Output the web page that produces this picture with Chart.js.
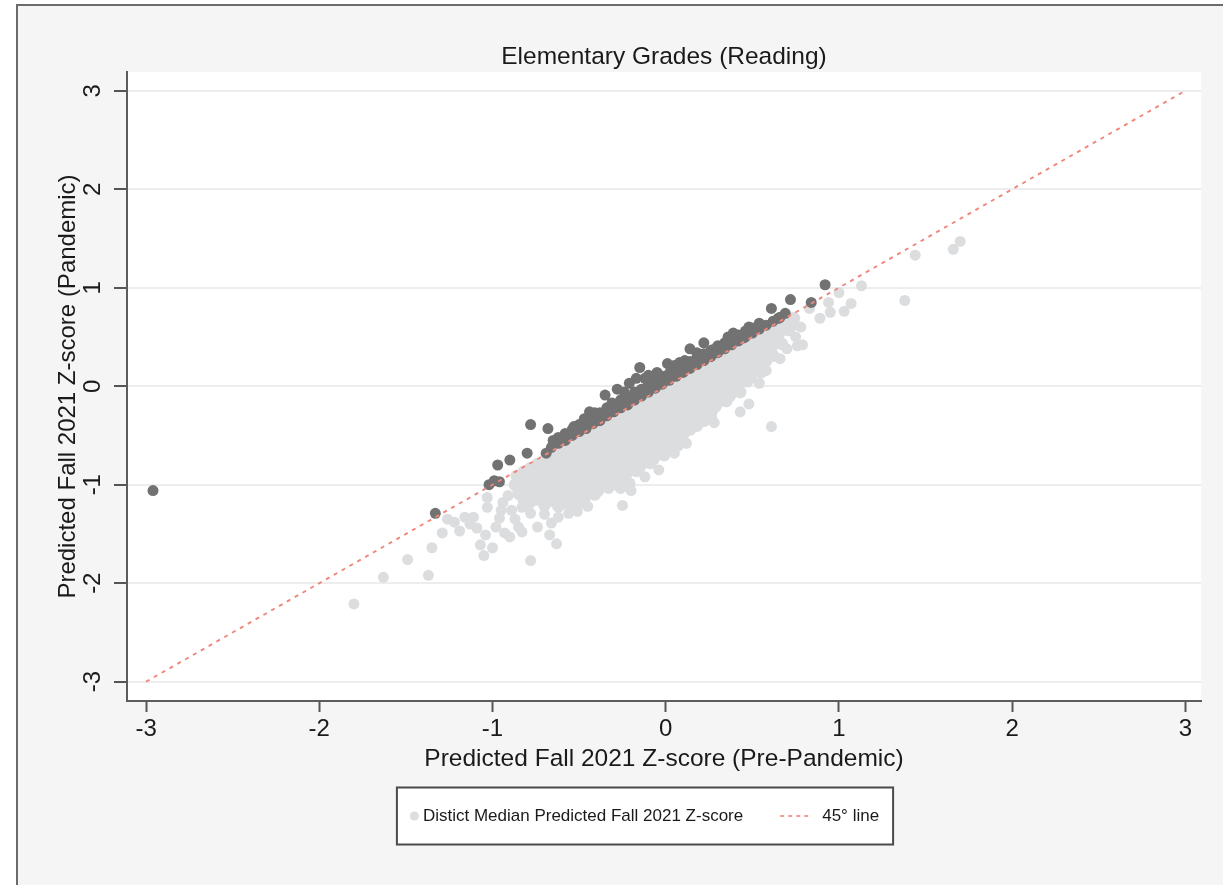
<!DOCTYPE html>
<html>
<head>
<meta charset="utf-8">
<script src="https://cdn.jsdelivr.net/npm/chart.js@4.4.1/dist/chart.umd.min.js"></script>
<style>
  html, body { margin: 0; padding: 0; background: #fff; overflow: hidden; }
  #frame { position: absolute; left: 16px; top: 4px; width: 1300px; height: 1000px;
           background: #f5f5f5; border-left: 2px solid #6b6b6b; border-top: 2px solid #6b6b6b; }
  #wrap { position: absolute; left: 0; top: 0; width: 1223px; height: 885px; }
</style>
</head>
<body>
<div id="frame"></div>
<div id="wrap"><canvas id="chart"></canvas></div>
<script>
// axis ticks
const xTicks = [-3, -2, -1, 0, 1, 2, 3];
const yTicks = [-3, -2, -1, 0, 1, 2, 3];

// 45 degree reference line
const lineX = [-3, 3];
const lineY = [-3, 3];

// districts below the line (light grey) - dense band
const lightCore = [
  [-0.86,-0.91],[-0.87,-1.00],[-0.85,-1.09],
  [-0.82,-0.87],[-0.81,-0.96],[-0.83,-1.05],[-0.82,-1.15],
  [-0.78,-0.83],[-0.79,-0.92],[-0.77,-1.01],[-0.78,-1.10],[-0.79,-1.19],
  [-0.74,-0.79],[-0.75,-0.88],[-0.73,-0.97],[-0.74,-1.06],[-0.75,-1.15],
  [-0.70,-0.75],[-0.71,-0.84],[-0.70,-0.93],[-0.69,-1.02],[-0.71,-1.11],[-0.70,-1.21],
  [-0.66,-0.71],[-0.65,-0.80],[-0.67,-0.89],[-0.66,-0.98],[-0.65,-1.07],[-0.66,-1.16],
  [-0.62,-0.67],[-0.63,-0.76],[-0.61,-0.85],[-0.62,-0.94],[-0.63,-1.03],[-0.61,-1.12],[-0.62,-1.22],
  [-0.58,-0.63],[-0.57,-0.72],[-0.59,-0.81],[-0.58,-0.90],[-0.57,-0.99],[-0.58,-1.08],[-0.59,-1.17],
  [-0.54,-0.59],[-0.55,-0.68],[-0.53,-0.77],[-0.54,-0.86],[-0.55,-0.95],[-0.53,-1.04],[-0.54,-1.13],[-0.55,-1.23],
  [-0.50,-0.55],[-0.49,-0.64],[-0.51,-0.73],[-0.50,-0.82],[-0.49,-0.91],[-0.51,-1.00],[-0.50,-1.09],[-0.49,-1.18],
  [-0.46,-0.51],[-0.47,-0.60],[-0.45,-0.69],[-0.46,-0.78],[-0.47,-0.87],[-0.45,-0.96],[-0.46,-1.05],[-0.47,-1.14],
  [-0.42,-0.47],[-0.41,-0.56],[-0.43,-0.65],[-0.42,-0.74],[-0.41,-0.83],[-0.43,-0.92],[-0.42,-1.01],[-0.41,-1.10],
  [-0.38,-0.43],[-0.39,-0.52],[-0.37,-0.61],[-0.38,-0.70],[-0.39,-0.79],[-0.37,-0.88],[-0.38,-0.97],[-0.39,-1.06],
  [-0.34,-0.39],[-0.33,-0.48],[-0.35,-0.57],[-0.34,-0.66],[-0.33,-0.75],[-0.35,-0.84],[-0.34,-0.93],[-0.33,-1.03],
  [-0.30,-0.35],[-0.31,-0.44],[-0.29,-0.53],[-0.30,-0.62],[-0.31,-0.71],[-0.29,-0.80],[-0.30,-0.89],[-0.31,-0.98],
  [-0.26,-0.31],[-0.25,-0.40],[-0.27,-0.49],[-0.26,-0.58],[-0.25,-0.67],[-0.27,-0.76],[-0.26,-0.85],[-0.25,-0.94],[-0.26,-1.03],
  [-0.22,-0.27],[-0.23,-0.36],[-0.21,-0.45],[-0.22,-0.54],[-0.23,-0.63],[-0.21,-0.72],[-0.22,-0.81],[-0.23,-0.90],[-0.21,-0.99],
  [-0.18,-0.23],[-0.17,-0.32],[-0.19,-0.41],[-0.18,-0.50],[-0.17,-0.59],[-0.19,-0.68],[-0.18,-0.77],[-0.17,-0.86],
  [-0.14,-0.19],[-0.15,-0.28],[-0.13,-0.37],[-0.14,-0.46],[-0.15,-0.55],[-0.13,-0.64],[-0.14,-0.73],[-0.15,-0.82],
  [-0.10,-0.15],[-0.09,-0.24],[-0.11,-0.33],[-0.10,-0.42],[-0.09,-0.51],[-0.11,-0.60],[-0.10,-0.69],[-0.09,-0.78],
  [-0.06,-0.11],[-0.07,-0.20],[-0.05,-0.29],[-0.06,-0.38],[-0.07,-0.47],[-0.05,-0.56],[-0.06,-0.65],[-0.07,-0.74],
  [-0.02,-0.07],[-0.01,-0.16],[-0.03,-0.25],[-0.02,-0.34],[-0.01,-0.43],[-0.03,-0.52],[-0.02,-0.61],[-0.01,-0.70],
  [0.02,-0.03],[0.01,-0.12],[0.03,-0.21],[0.02,-0.30],[0.01,-0.39],[0.03,-0.48],[0.02,-0.57],[0.01,-0.64],
  [0.06,0.01],[0.07,-0.08],[0.05,-0.17],[0.06,-0.26],[0.07,-0.35],[0.05,-0.44],[0.06,-0.53],[0.07,-0.60],
  [0.10,0.05],[0.09,-0.04],[0.11,-0.13],[0.10,-0.22],[0.09,-0.31],[0.11,-0.40],[0.10,-0.49],
  [0.14,0.09],[0.15,0.00],[0.13,-0.09],[0.14,-0.18],[0.15,-0.27],[0.13,-0.36],[0.14,-0.44],
  [0.18,0.13],[0.17,0.04],[0.19,-0.05],[0.18,-0.14],[0.17,-0.23],[0.19,-0.32],[0.18,-0.40],
  [0.22,0.17],[0.23,0.08],[0.21,-0.01],[0.22,-0.10],[0.23,-0.19],[0.21,-0.28],[0.22,-0.35],
  [0.26,0.21],[0.25,0.12],[0.27,0.03],[0.26,-0.06],[0.25,-0.15],[0.27,-0.24],[0.26,-0.31],
  [0.30,0.25],[0.31,0.16],[0.29,0.07],[0.30,-0.02],[0.31,-0.11],[0.29,-0.20],
  [0.34,0.29],[0.33,0.20],[0.35,0.11],[0.34,0.02],[0.33,-0.07],[0.35,-0.15],
  [0.38,0.33],[0.39,0.24],[0.37,0.15],[0.38,0.06],[0.39,-0.03],[0.37,-0.10],
  [0.42,0.37],[0.41,0.28],[0.43,0.19],[0.42,0.10],[0.41,0.01],[0.43,-0.06],
  [0.46,0.41],[0.47,0.32],[0.45,0.23],[0.46,0.14],[0.47,0.05],
  [0.50,0.45],[0.49,0.36],[0.51,0.27],[0.50,0.18],[0.49,0.09],
  [0.54,0.49],[0.55,0.40],[0.53,0.31],[0.54,0.22],[0.55,0.14],
  [0.58,0.53],[0.57,0.44],[0.59,0.35],[0.58,0.26],
  [0.62,0.57],[0.63,0.48],[0.61,0.39],[0.62,0.31],
  [0.66,0.61],[0.65,0.52],[0.67,0.43],
  [0.70,0.65],[0.71,0.57],
  [0.74,0.69],[0.73,0.62]
];

// light grey districts away from the main band
const lightOutliers = [
  [-1.80,-2.21],[-1.63,-1.94],[-1.49,-1.76],[-1.37,-1.92],[-1.35,-1.64],[-1.29,-1.49],
  [-1.26,-1.35],[-1.22,-1.38],[-1.19,-1.47],[-1.16,-1.33],[-1.13,-1.40],[-1.11,-1.33],
  [-1.09,-1.44],[-1.07,-1.61],[-1.05,-1.72],[-1.00,-1.64],[-1.04,-1.51],[-1.03,-1.13],
  [-1.03,-1.23],[-0.96,-1.34],[-0.95,-1.26],[-0.98,-1.43],[-0.93,-1.49],[-0.94,-1.18],
  [-0.90,-1.53],[-0.89,-1.26],[-0.91,-1.11],[-0.87,-1.35],[-0.85,-1.43],[-0.83,-1.48],
  [-0.78,-1.77],[-0.83,-1.23],[-0.78,-1.29],[-0.74,-1.43],[-0.70,-1.30],[-0.67,-1.51],
  [-0.63,-1.60],[-0.66,-1.39],[-0.62,-1.33],[-0.56,-1.29],[-0.51,-1.27],[-0.45,-1.22],
  [-0.25,-1.21],[-0.20,-1.06],[-0.12,-0.92],[-0.04,-0.85],[0.05,-0.68],[0.12,-0.58],
  [0.28,-0.37],[0.43,-0.26],[0.48,-0.18],[0.61,-0.41],[0.54,0.03],[0.58,0.16],
  [0.66,0.28],[0.70,0.38],[0.76,0.41],[0.79,0.42],[0.75,0.50],[0.69,0.57],
  [0.78,0.60],[0.83,0.79],[0.89,0.69],[0.95,0.75],[0.94,0.85],[1.00,0.95],
  [1.03,0.76],[1.07,0.84],[1.13,1.02],[1.38,0.87],[1.44,1.33],[1.66,1.39],[1.70,1.47]
];

// districts above the line (dark grey) - band hugging the line
const darkBand = [
  [-0.66,-0.62],[-0.62,-0.58],[-0.62,-0.52],[-0.58,-0.55],[-0.54,-0.50],[-0.54,-0.44],
  [-0.50,-0.46],[-0.50,-0.39],[-0.46,-0.43],[-0.46,-0.36],[-0.42,-0.38],[-0.42,-0.31],
  [-0.38,-0.35],[-0.38,-0.27],[-0.34,-0.30],[-0.34,-0.22],[-0.30,-0.26],[-0.30,-0.19],
  [-0.26,-0.22],[-0.26,-0.14],[-0.22,-0.19],[-0.22,-0.11],[-0.18,-0.14],[-0.18,-0.06],
  [-0.14,-0.10],[-0.14,-0.03],[-0.10,-0.06],[-0.10,0.02],[-0.06,-0.02],[-0.06,0.06],
  [-0.02,0.02],[-0.02,0.10],[0.02,0.06],[0.02,0.13],[0.06,0.10],[0.06,0.17],
  [0.10,0.14],[0.10,0.21],[0.14,0.18],[0.14,0.25],[0.18,0.22],[0.18,0.29],
  [0.22,0.26],[0.22,0.33],[0.26,0.30],[0.26,0.36],[0.30,0.34],[0.30,0.41],
  [0.34,0.38],[0.34,0.44],[0.38,0.42],[0.38,0.49],[0.42,0.46],[0.42,0.52],
  [0.46,0.50],[0.46,0.56],[0.50,0.54],[0.54,0.58],[0.54,0.62],[0.58,0.62],
  [0.62,0.66],[0.66,0.70],
  [-0.44,-0.26],[-0.24,-0.06],[-0.12,0.08],[0.08,0.24],[0.18,0.34],[0.36,0.50],[0.48,0.60]
];

// dark grey districts further above the line
const darkOutliers = [
  [-2.96,-1.06],[-1.33,-1.29],[-1.02,-1.00],[-0.99,-0.96],[-0.96,-0.97],[-0.97,-0.80],
  [-0.90,-0.75],[-0.80,-0.68],[-0.78,-0.39],[-0.68,-0.43],[-0.69,-0.68],[-0.65,-0.55],
  [-0.58,-0.48],[-0.53,-0.41],[-0.47,-0.33],[-0.41,-0.27],[-0.35,-0.09],[-0.28,-0.03],
  [-0.31,-0.17],[-0.21,0.03],[-0.15,0.19],[-0.17,0.08],[-0.10,0.11],[-0.05,0.14],
  [0.01,0.23],[0.05,0.21],[0.11,0.26],[0.14,0.38],[0.22,0.44],[0.27,0.37],
  [0.32,0.40],[0.39,0.54],[0.45,0.49],[0.50,0.59],[0.54,0.64],[0.61,0.79],
  [0.65,0.69],[0.69,0.74],[0.72,0.88],[0.84,0.85],[0.92,1.03]
];

const toXY = arr => arr.map(p => ({ x: p[0], y: p[1] }));

const FONT = "'Liberation Sans', Arial, Helvetica, sans-serif";
const LIGHT = '#dcdddf';
const DARK = '#727272';
const RED = '#f0867b';
const INK = '#1a1a1a';

Chart.defaults.font.family = FONT;

// white plot region
const plotBg = {
  id: 'plotBg',
  beforeDraw(chart) {
    const { ctx, chartArea: a } = chart;
    ctx.save();
    ctx.fillStyle = '#ffffff';
    ctx.fillRect(a.left, a.top, a.right - a.left, a.bottom - a.top);
    ctx.restore();
  }
};

// title, rotated y tick labels and boxed legend
const extras = {
  id: 'extras',
  afterDraw(chart) {
    const { ctx, chartArea: a } = chart;
    const ys = chart.scales.y;
    ctx.save();
    ctx.fillStyle = INK;
    ctx.textAlign = 'center';
    ctx.textBaseline = 'middle';
    ctx.font = '24.5px ' + FONT;
    ctx.fillText('Elementary Grades (Reading)', (a.left + a.right) / 2, 57);

    ctx.font = '24px ' + FONT;
    ys.ticks.forEach(t => {
      ctx.save();
      ctx.translate(93, ys.getPixelForValue(t.value));
      ctx.rotate(-Math.PI / 2);
      ctx.fillText(String(t.value), 0, 0);
      ctx.restore();
    });

    // legend
    ctx.font = '17px ' + FONT;
    const t1 = 'Distict Median Predicted Fall 2021 Z-score';
    const t2 = '45\u00b0 line';
    const w1 = ctx.measureText(t1).width;
    const w2 = ctx.measureText(t2).width;
    const inner = 9 + 4 + w1 + 37 + 32 + 10 + w2;
    const boxW = inner + 27;
    const cx = 645, cy = 816, boxH = 57;
    const bx = cx - boxW / 2, by = cy - boxH / 2;
    ctx.fillStyle = '#ffffff';
    ctx.fillRect(bx, by, boxW, boxH);
    ctx.strokeStyle = '#4a4a4a';
    ctx.lineWidth = 2;
    ctx.strokeRect(bx, by, boxW, boxH);
    let x = bx + 13;
    ctx.fillStyle = LIGHT;
    ctx.beginPath();
    ctx.arc(x + 4.5, cy, 4.5, 0, Math.PI * 2);
    ctx.fill();
    x += 13;
    ctx.fillStyle = INK;
    ctx.textAlign = 'left';
    ctx.fillText(t1, x, cy);
    x += w1 + 37;
    ctx.strokeStyle = RED;
    ctx.lineWidth = 1.6;
    ctx.setLineDash([4, 4]);
    ctx.beginPath();
    ctx.moveTo(x, cy);
    ctx.lineTo(x + 32, cy);
    ctx.stroke();
    ctx.setLineDash([]);
    x += 42;
    ctx.fillText(t2, x, cy);
    ctx.restore();
  }
};

new Chart(document.getElementById('chart'), {
  type: 'scatter',
  data: {
    datasets: [
      {
        label: '45\u00b0 line',
        data: lineX.map((x, i) => ({ x: x, y: lineY[i] })),
        showLine: true,
        borderColor: RED,
        borderWidth: 1.9,
        borderDash: [4, 5],
        pointRadius: 0,
        order: 0
      },
      {
        label: 'Above',
        data: toXY(darkBand.concat(darkOutliers)),
        backgroundColor: DARK,
        borderWidth: 0,
        pointRadius: 5.5,
        order: 1
      },
      {
        label: 'Distict Median Predicted Fall 2021 Z-score',
        data: toXY(lightOutliers),
        backgroundColor: LIGHT,
        borderWidth: 0,
        pointRadius: 5.5,
        order: 2
      },
      {
        label: 'Distict Median Predicted Fall 2021 Z-score (core)',
        data: toXY(lightCore),
        backgroundColor: LIGHT,
        borderWidth: 0,
        pointRadius: 6.3,
        order: 3
      }
    ]
  },
  options: {
    responsive: true,
    maintainAspectRatio: false,
    animation: false,
    devicePixelRatio: 1,
    events: [],
    layout: { padding: { top: 72, right: 22, bottom: 0, left: 0 } },
    plugins: { legend: { display: false }, tooltip: { enabled: false } },
    scales: {
      x: {
        type: 'linear',
        min: -3.11,
        max: 3.09,
        afterBuildTicks: s => { s.ticks = xTicks.map(v => ({ value: v })); },
        afterFit: s => { s.height = 184; },
        grid: { drawOnChartArea: false, drawTicks: true, tickLength: 11, tickColor: '#555', tickWidth: 2 },
        border: { color: '#5c5c5c', width: 2 },
        ticks: { color: INK, font: { size: 24 }, padding: 3, maxRotation: 0, autoSkip: false },
        title: {
          display: true,
          text: 'Predicted Fall 2021 Z-score (Pre-Pandemic)',
          color: INK,
          font: { size: 24.5 },
          padding: { top: 0, bottom: 111 }
        }
      },
      y: {
        type: 'linear',
        min: -3.196,
        max: 3.19,
        afterBuildTicks: s => { s.ticks = yTicks.map(v => ({ value: v })); },
        afterFit: s => { s.width = 127; },
        grid: { color: '#ededed', lineWidth: 2, drawTicks: true, tickLength: 13, tickColor: '#555', tickWidth: 2 },
        border: { color: '#5c5c5c', width: 2 },
        ticks: { display: false },
        title: {
          display: true,
          text: 'Predicted Fall 2021 Z-score (Pandemic)',
          color: INK,
          font: { size: 24 },
          padding: { top: 54, bottom: 0 }
        }
      }
    }
  },
  plugins: [plotBg, extras]
});
</script>
</body>
</html>
